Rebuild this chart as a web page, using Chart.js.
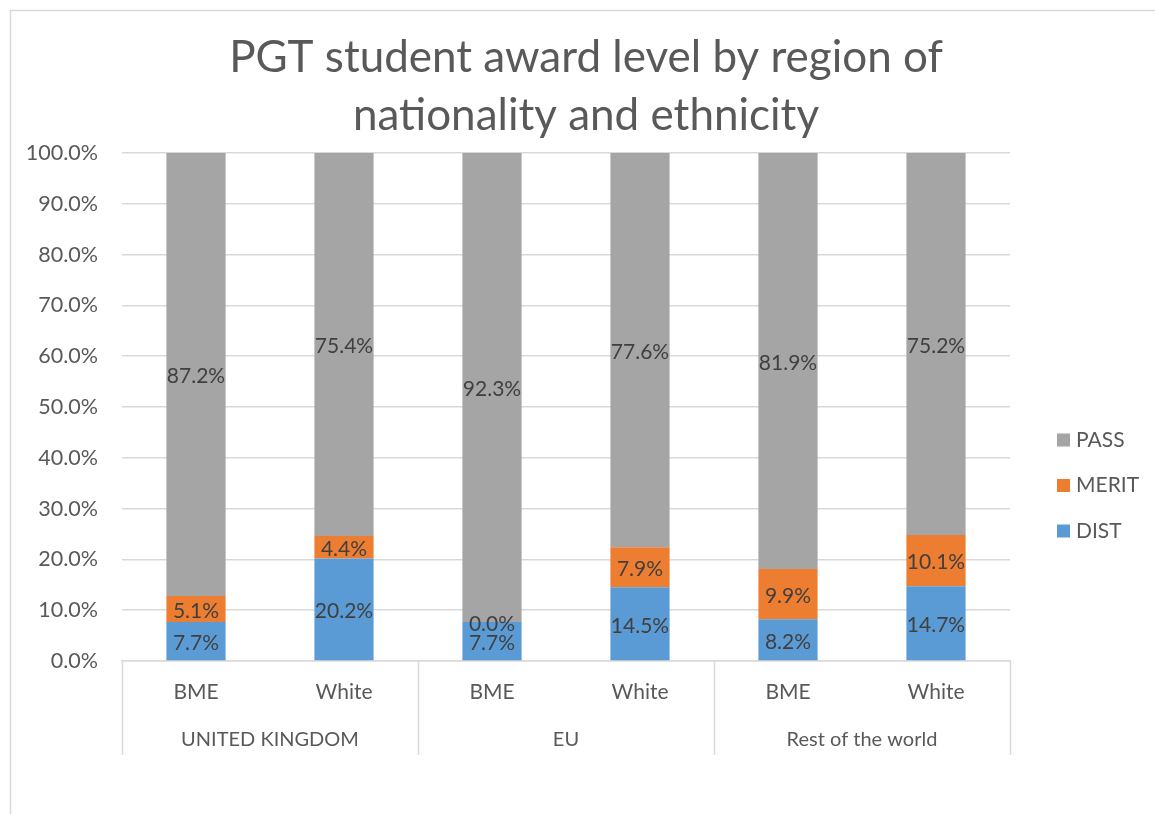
<!DOCTYPE html>
<html>
<head>
<meta charset="utf-8">
<script src="https://cdn.jsdelivr.net/npm/chart.js@4.4.0/dist/chart.umd.min.js"></script>
<style>
  html, body { margin: 0; padding: 0; background: #fff; }
  #wrap { position: relative; width: 1155px; height: 814px; }
</style>
</head>
<body>
<div id="wrap"><canvas id="chart" width="1155" height="814"></canvas></div>
<script>
// chart data
const titleLines = ["PGT student award level by region of", "nationality and ethnicity"];
const groups = ["UNITED KINGDOM", "EU", "Rest of the world"];
const categories = ["BME", "White", "BME", "White", "BME", "White"];
const distValues = [7.7, 20.2, 7.7, 14.5, 8.2, 14.7];
const meritValues = [5.1, 4.4, 0.0, 7.9, 9.9, 10.1];
const passValues = [87.2, 75.4, 92.3, 77.6, 81.9, 75.2];
const yMax = 100;
const yStep = 10;

const FONT = "Lato, 'Open Sans', sans-serif";
const TEXT = '#595959';
const GRID = '#d9d9d9';

// frame, title, legend and the second level of the category axis
const decorations = {
  id: 'decorations',
  beforeDraw(chart) {
    const ctx = chart.ctx;
    ctx.save();
    ctx.fillStyle = '#fff';
    ctx.fillRect(0, 0, chart.width, chart.height);
    ctx.strokeStyle = GRID;
    ctx.lineWidth = 1.5;
    ctx.strokeRect(10.5, 10.5, chart.width + 20, chart.height + 20);
    ctx.restore();
  },
  afterDraw(chart) {
    const ctx = chart.ctx;
    const x = chart.scales.x;
    const area = chart.chartArea;
    ctx.save();

    // title
    ctx.fillStyle = TEXT;
    ctx.font = '44px ' + FONT;
    ctx.textAlign = 'center';
    ctx.textBaseline = 'middle';
    titleLines.forEach((line, i) => ctx.fillText(line, 586, 58 + i * 58));

    // group separators + labels
    const perGroup = categories.length / groups.length;
    const catWidth = (x.right - x.left) / categories.length;
    ctx.strokeStyle = GRID;
    ctx.lineWidth = 1.5;
    for (let g = 0; g <= groups.length; g++) {
      const px = Math.round(x.left + g * perGroup * catWidth) + 0.5;
      ctx.beginPath();
      ctx.moveTo(px, area.bottom);
      ctx.lineTo(px, 755);
      ctx.stroke();
    }
    ctx.font = '20px ' + FONT;
    groups.forEach((name, g) => {
      const cx = x.left + (g + 0.5) * perGroup * catWidth;
      ctx.fillText(name, cx, 740);
    });

    // legend (reverse order like the source)
    ctx.textAlign = 'left';
    ctx.font = '21px ' + FONT;
    const items = chart.data.datasets.slice().reverse();
    items.forEach((ds, i) => {
      const cy = 440 + i * 45.5;
      ctx.fillStyle = ds.backgroundColor;
      ctx.fillRect(1057, cy - 6.5, 13, 13);
      ctx.fillStyle = TEXT;
      ctx.fillText(ds.label, 1076, cy);
    });
    ctx.restore();
  }
};

// value labels centred in each segment
const segmentLabels = {
  id: 'segmentLabels',
  afterDatasetsDraw(chart) {
    const ctx = chart.ctx;
    ctx.save();
    ctx.font = '21px ' + FONT;
    ctx.fillStyle = '#404040';
    ctx.textAlign = 'center';
    ctx.textBaseline = 'middle';
    chart.data.datasets.forEach((ds, i) => {
      chart.getDatasetMeta(i).data.forEach((bar, j) => {
        const y = (bar.y + bar.base) / 2 + 2;
        ctx.fillText(ds.data[j].toFixed(1) + '%', bar.x, y);
      });
    });
    ctx.restore();
  }
};

const ctx = document.getElementById('chart').getContext('2d');
new Chart(ctx, {
  type: 'bar',
  data: {
    labels: categories,
    datasets: [
      { label: 'DIST', data: distValues, backgroundColor: '#5b9bd5' },
      { label: 'MERIT', data: meritValues, backgroundColor: '#ed7d31' },
      { label: 'PASS', data: passValues, backgroundColor: '#a5a5a5' }
    ]
  },
  options: {
    responsive: false,
    animation: false,
    devicePixelRatio: 1,
    layout: { padding: { top: 153, right: 145, bottom: 53, left: 0 } },
    datasets: {
      bar: { barPercentage: 0.4, categoryPercentage: 1, borderWidth: 0 }
    },
    plugins: {
      legend: { display: false },
      title: { display: false },
      tooltip: { enabled: false }
    },
    scales: {
      x: {
        stacked: true,
        grid: { display: false, drawTicks: false },
        border: { display: true, color: GRID, width: 1.5 },
        ticks: { color: TEXT, font: { family: FONT, size: 21 }, padding: 19, maxRotation: 0 },
        afterFit(scale) { scale.height = 100; }
      },
      y: {
        stacked: true,
        min: 0,
        max: yMax,
        grid: { color: GRID, lineWidth: 1.5, drawTicks: false },
        border: { display: false },
        ticks: {
          stepSize: yStep,
          color: TEXT,
          padding: 24,
          font: { family: FONT, size: 21.5 },
          callback: v => v.toFixed(1) + '%'
        },
        afterFit(scale) { scale.width = 122; }
      }
    }
  },
  plugins: [decorations, segmentLabels]
});
</script>
</body>
</html>
